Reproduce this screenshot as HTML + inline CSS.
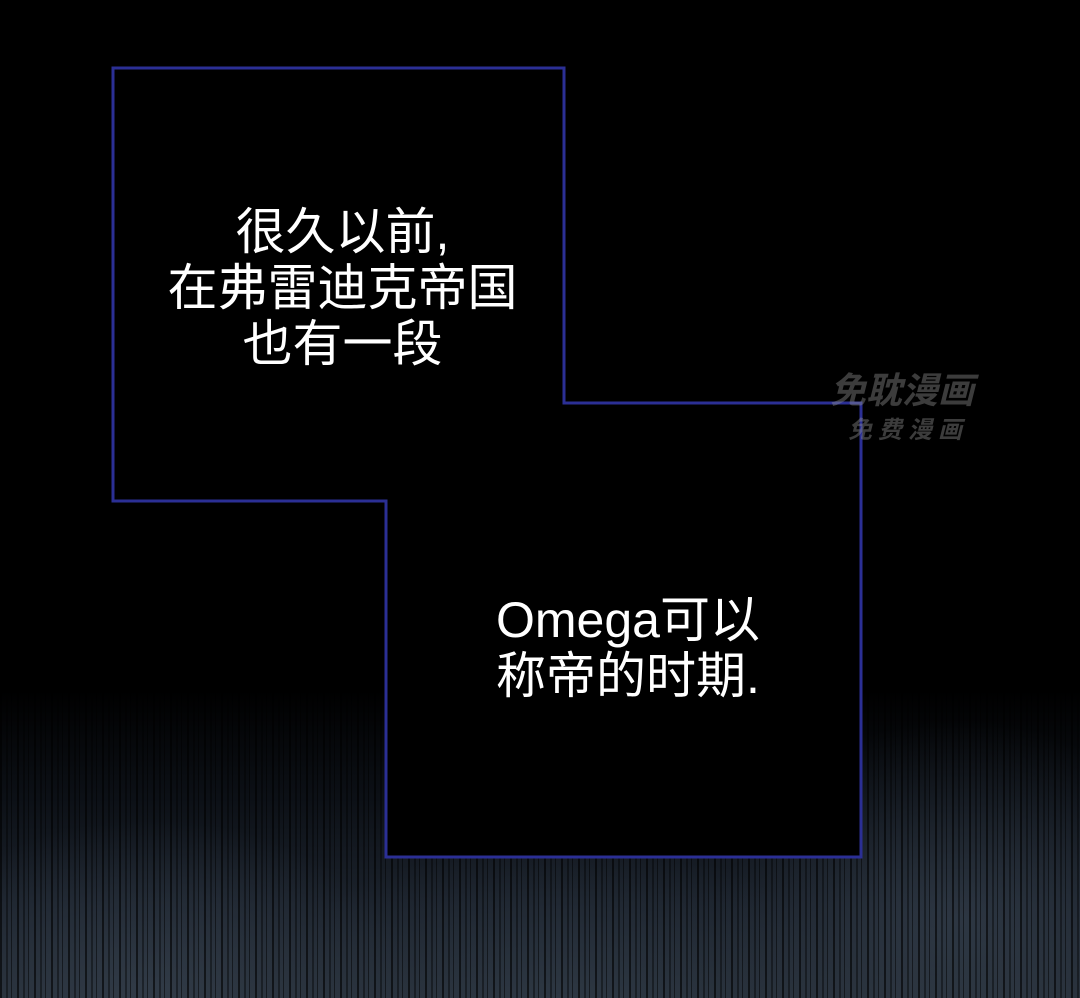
<!DOCTYPE html>
<html><head><meta charset="utf-8"><style>
html,body{margin:0;padding:0;}
body{width:1080px;height:998px;background:#000;position:relative;overflow:hidden;font-family:"Liberation Sans","Noto Sans CJK SC",sans-serif;}
.fog{position:absolute;left:0;top:690px;width:1080px;height:308px;
background:
repeating-linear-gradient(90deg,rgba(0,0,0,0.6) 0 2px,rgba(0,0,0,0) 2px 6px,rgba(0,0,0,0.4) 6px 8px,rgba(0,0,0,0) 8px 11px,rgba(0,0,0,0.5) 11px 12px,rgba(0,0,0,0) 12px 17px),
radial-gradient(ellipse 260px 170px at 150px 300px,rgba(60,72,86,0.5),rgba(0,0,0,0)),
radial-gradient(ellipse 300px 170px at 560px 320px,rgba(55,68,82,0.45),rgba(0,0,0,0)),
radial-gradient(ellipse 240px 200px at 960px 230px,rgba(60,72,86,0.5),rgba(0,0,0,0)),
linear-gradient(180deg,rgba(0,0,0,1) 0%,rgba(12,16,22,1) 35%,rgba(28,35,45,1) 70%,rgba(38,46,56,1) 100%);}
svg{position:absolute;left:0;top:0;}
.t{position:absolute;color:#fff;font-size:50px;line-height:56px;font-family:"Liberation Sans","Noto Sans CJK SC",sans-serif;}
.wm{position:absolute;color:rgba(150,150,150,0.4);font-weight:bold;font-style:italic;}
</style></head><body>
<div class="fog"></div>
<svg width="1080" height="998"><polygon points="113,68 564,68 564,403 861,403 861,857 386,857 386,501 113,501" fill="#000" stroke="#2b2f95" stroke-width="3"/></svg>
<div class="t" style="left:140px;top:204px;width:405px;text-align:center;">很久以前,<br>在弗雷迪克帝国<br>也有一段</div>
<div class="t" style="left:496px;top:592px;">Omega可以<br>称帝的时期.</div>
<div class="wm" style="left:830px;top:362px;font-size:36px;">免耽漫画</div>
<div class="wm" style="left:848px;top:410px;font-size:24px;letter-spacing:6px;">免费漫画</div>
</body></html>
